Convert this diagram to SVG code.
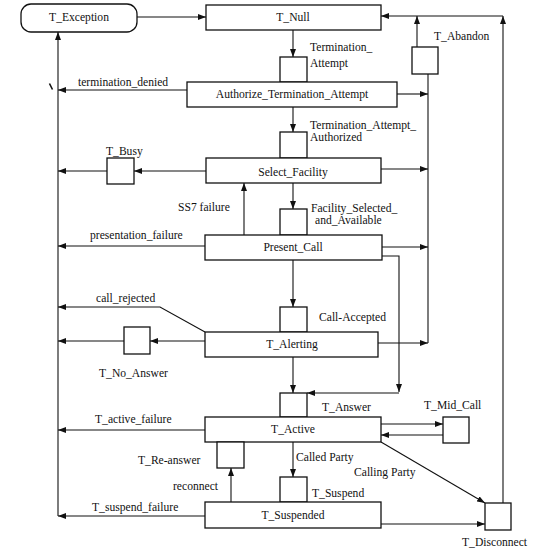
<svg xmlns="http://www.w3.org/2000/svg" width="544" height="554" viewBox="0 0 544 554">
<defs>
<marker id="ah" viewBox="0 0 8 6" refX="8" refY="3" markerWidth="8" markerHeight="6" markerUnits="userSpaceOnUse" orient="auto">
<path d="M0,0 L8,3 L0,6 Z" fill="#111"/>
</marker>
<style>
.n{fill:#fff;stroke:#111;stroke-width:1.3}
.c{fill:none;stroke:#111;stroke-width:1.1}
.a{marker-end:url(#ah)}
text{font-family:"Liberation Serif","Times New Roman",serif;font-size:11.6px;fill:#111}
.m{text-anchor:middle}
</style>
</defs>
<rect width="544" height="554" fill="#fff"/>
<g id="connectors">
<path class="c a" d="M137,17 H206"/>
<path class="c a" d="M293,30 V57"/>
<path class="c a" d="M187,90 H58"/>
<path class="c a" d="M397,94 H428"/>
<path class="c a" d="M293,107 V132"/>
<path class="c a" d="M206,171 H134"/>
<path class="c a" d="M107,171 H58"/>
<path class="c a" d="M381,169 H428"/>
<path class="c a" d="M293,183 V209"/>
<path class="c a" d="M244,235 V183"/>
<path class="c a" d="M205,246 H58"/>
<path class="c a" d="M382,247 H428"/>
<path class="c a" d="M382,256 H399 V392"/>
<path class="c a" d="M399,393 H307"/>
<path class="c a" d="M293,260 V307"/>
<path class="c a" d="M205,332 L160,307 H58"/>
<path class="c a" d="M205,341 H150"/>
<path class="c a" d="M124,341 H58"/>
<path class="c a" d="M378,343 H428"/>
<path class="c" d="M428,74 V343"/>
<path class="c a" d="M417,47 V16"/>
<path class="c a" d="M293,357 V393"/>
<path class="c a" d="M205,430 H58"/>
<path class="c a" d="M381,424 H443"/>
<path class="c a" d="M443,435 H381"/>
<path class="c a" d="M293,442 V477"/>
<path class="c a" d="M231,502 V468"/>
<path class="c a" d="M381,442 L485,503"/>
<path class="c a" d="M381,524 H485"/>
<path class="c a" d="M205,516 H58"/>
<path class="c a" d="M58,516 V32"/>
<path class="c a" d="M503,503 V16"/>
<path class="c a" d="M503,16 H381"/>
<path d="M49.5,83.5 L52.5,89.5" stroke="#111" stroke-width="1.6"/>
</g>
<g id="T_Exception"><rect class="n" x="21" y="4" width="116" height="28" rx="10"/><text class="m" x="79" y="21">T_Exception</text></g>
<g id="T_Null"><rect class="n" x="206" y="5" width="175" height="25"/><text class="m" x="293" y="21">T_Null</text></g>
<g id="Termination_Attempt"><rect class="n" x="280" y="57" width="27" height="25"/><text x="310" y="51">Termination_</text><text x="310" y="67">Attempt</text></g>
<g id="T_Abandon"><rect class="n" x="412" y="47" width="26" height="27"/><text x="434" y="40">T_Abandon</text></g>
<g id="Authorize_Termination_Attempt"><rect class="n" x="187" y="82" width="210" height="25"/><text class="m" x="292" y="98">Authorize_Termination_Attempt</text></g>
<g id="termination_denied"><text x="78" y="86">termination_denied</text></g>
<g id="Termination_Attempt_Authorized"><rect class="n" x="280" y="132" width="27" height="26"/><text x="310" y="129">Termination_Attempt_</text><text x="310" y="141">Authorized</text></g>
<g id="T_Busy"><rect class="n" x="107" y="158" width="27" height="26"/><text x="106" y="155">T_Busy</text></g>
<g id="Select_Facility"><rect class="n" x="206" y="158" width="175" height="25"/><text class="m" x="293" y="176">Select_Facility</text></g>
<g id="SS7_failure"><text x="178" y="211">SS7 failure</text></g>
<g id="Facility_Selected_and_Available"><rect class="n" x="280" y="209" width="27" height="26"/><text x="311" y="212">Facility_Selected_</text><text x="315" y="224">and_Available</text></g>
<g id="presentation_failure"><text x="90" y="239">presentation_failure</text></g>
<g id="Present_Call"><rect class="n" x="205" y="235" width="177" height="25"/><text class="m" x="293" y="251">Present_Call</text></g>
<g id="call_rejected"><text x="96" y="302">call_rejected</text></g>
<g id="Call_Accepted"><rect class="n" x="280" y="307" width="27" height="25"/><text x="319" y="321">Call-Accepted</text></g>
<g id="T_No_Answer"><rect class="n" x="124" y="327" width="26" height="27"/><text x="99" y="377">T_No_Answer</text></g>
<g id="T_Alerting"><rect class="n" x="205" y="332" width="173" height="25"/><text class="m" x="292" y="348">T_Alerting</text></g>
<g id="T_Answer"><rect class="n" x="280" y="393" width="27" height="24"/><text x="322" y="411">T_Answer</text></g>
<g id="T_Mid_Call"><rect class="n" x="443" y="417" width="26" height="26"/><text x="424" y="409">T_Mid_Call</text></g>
<g id="T_active_failure"><text x="95" y="423">T_active_failure</text></g>
<g id="T_Active"><rect class="n" x="205" y="417" width="176" height="25"/><text class="m" x="293" y="433">T_Active</text></g>
<g id="T_Re-answer"><rect class="n" x="217" y="442" width="27" height="26"/><text x="138" y="464">T_Re-answer</text></g>
<g id="Called_Party"><text x="296" y="461">Called Party</text></g>
<g id="Calling_Party"><text x="354" y="476">Calling Party</text></g>
<g id="reconnect"><text x="173" y="490">reconnect</text></g>
<g id="T_Suspend"><rect class="n" x="280" y="477" width="27" height="25"/><text x="312" y="497">T_Suspend</text></g>
<g id="T_suspend_failure"><text x="92" y="511">T_suspend_failure</text></g>
<g id="T_Suspended"><rect class="n" x="205" y="502" width="176" height="26"/><text class="m" x="293" y="519">T_Suspended</text></g>
<g id="T_Disconnect"><rect class="n" x="485" y="503" width="26" height="27"/><text x="462" y="546">T_Disconnect</text></g>
</svg>
